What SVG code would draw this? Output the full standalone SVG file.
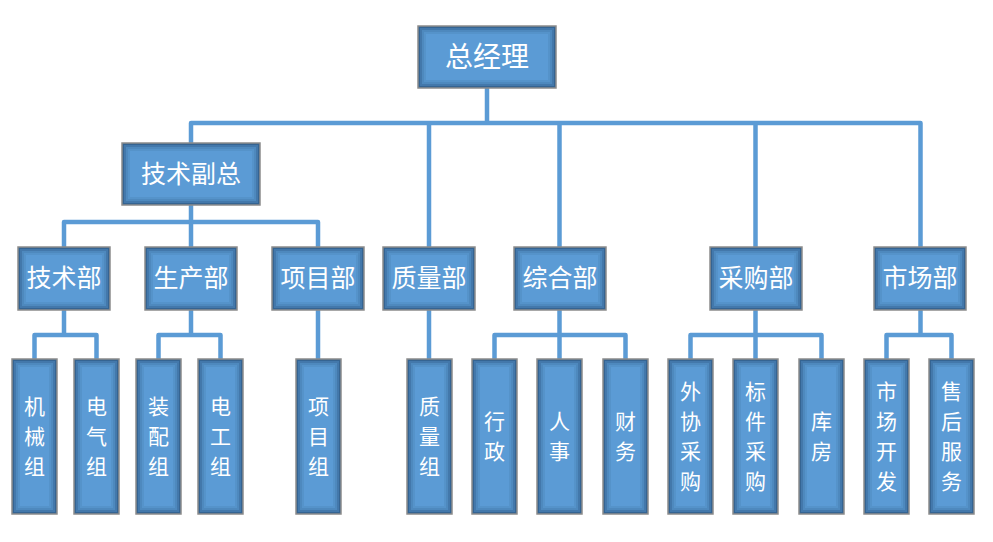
<svg xmlns="http://www.w3.org/2000/svg" width="993" height="542" viewBox="0 0 993 542">
<defs>
<style>
.fill{fill:#5b9bd5;}
.s0{fill:none;stroke:#1c3f66;stroke-width:2;stroke-opacity:0.6;}
.s1{fill:none;stroke:#1c3f66;stroke-width:2;stroke-opacity:0.38;}
.s2{fill:none;stroke:#1c3f66;stroke-width:2;stroke-opacity:0.2;}
.s3{fill:none;stroke:#1c3f66;stroke-width:2;stroke-opacity:0.09;}
.edge{fill:none;stroke:#8c8c8c;stroke-width:1.5;}
.t1{fill:#fff;font-family:"Noto Sans CJK SC","Noto Sans",sans-serif;font-size:28px;text-anchor:middle;}
.t2{fill:#fff;font-family:"Noto Sans CJK SC","Noto Sans",sans-serif;font-size:25px;text-anchor:middle;}
.t3{fill:#fff;font-family:"Noto Sans CJK SC","Noto Sans",sans-serif;font-size:21px;text-anchor:middle;}
.conn{fill:none;stroke:#5b9bd5;stroke-width:4.5;stroke-linejoin:round;stroke-linecap:butt;}
</style>
<g id="wideBox">
<rect class="fill" x="0" y="0" width="138" height="62"/>
<rect class="s0" x="1" y="1" width="136" height="60"/>
<rect class="s1" x="3" y="3" width="132" height="56"/>
<rect class="s2" x="5" y="5" width="128" height="52"/>
<rect class="s3" x="7" y="7" width="124" height="48"/>
<rect class="edge" x="0" y="0" width="138" height="62"/>
</g>
<g id="midBox">
<rect class="fill" x="0" y="0" width="92" height="63"/>
<rect class="s0" x="1" y="1" width="90" height="61"/>
<rect class="s1" x="3" y="3" width="86" height="57"/>
<rect class="s2" x="5" y="5" width="82" height="53"/>
<rect class="s3" x="7" y="7" width="78" height="49"/>
<rect class="edge" x="0" y="0" width="92" height="63"/>
</g>
<g id="leafBox">
<rect class="fill" x="0" y="0" width="45" height="155"/>
<rect class="s0" x="1" y="1" width="43" height="153"/>
<rect class="s1" x="3" y="3" width="39" height="149"/>
<rect class="s2" x="5" y="5" width="35" height="145"/>
<rect class="s3" x="7" y="7" width="31" height="141"/>
<rect class="edge" x="0" y="0" width="45" height="155"/>
</g>
</defs>
<rect width="993" height="542" fill="#ffffff"/>
<g id="connectors" class="conn">
<path d="M487 88 V123"/>
<path d="M191 143 V123 H920.5 V247"/>
<path d="M429 123 V247"/>
<path d="M559.5 123 V247"/>
<path d="M755.5 123 V247"/>
<path d="M191 205 V222"/>
<path d="M64 248 V222 H318 V248"/>
<path d="M191 222 V248"/>
<path d="M64 310 V335"/>
<path d="M34.5 359 V335 H96.5 V359"/>
<path d="M191 310 V335"/>
<path d="M158.5 359 V335 H220.5 V359"/>
<path d="M318 310 V359"/>
<path d="M429 310 V359"/>
<path d="M559.5 310 V359"/>
<path d="M494.5 359 V335 H625.5 V359"/>
<path d="M755.5 310 V359"/>
<path d="M690.5 359 V335 H821.5 V359"/>
<path d="M920.5 310 V335"/>
<path d="M886.5 359 V335 H951.5 V359"/>
</g>
<g id="n-zjl"><use href="#wideBox" x="418" y="26"/><text class="t1" x="487" y="67">总经理</text></g>
<g id="n-jsfz"><use href="#wideBox" x="122" y="143"/><text class="t2" x="191" y="183">技术副总</text></g>
<g id="n-jsb"><use href="#midBox" x="18" y="247"/><text class="t2" x="64" y="287">技术部</text></g>
<g id="n-scb"><use href="#midBox" x="145" y="247"/><text class="t2" x="191" y="287">生产部</text></g>
<g id="n-xmb"><use href="#midBox" x="272" y="247"/><text class="t2" x="318" y="287">项目部</text></g>
<g id="n-zlb"><use href="#midBox" x="383" y="247"/><text class="t2" x="429" y="287">质量部</text></g>
<g id="n-zhb"><use href="#midBox" x="514" y="247"/><text class="t2" x="560" y="287">综合部</text></g>
<g id="n-cgb"><use href="#midBox" x="710" y="247"/><text class="t2" x="756" y="287">采购部</text></g>
<g id="n-scb2"><use href="#midBox" x="874" y="247"/><text class="t2" x="920" y="287">市场部</text></g>
<g id="l-jxz"><use href="#leafBox" x="12" y="359"/><text class="t3"><tspan x="34.5" y="414">机</tspan><tspan x="34.5" y="444">械</tspan><tspan x="34.5" y="474">组</tspan></text></g>
<g id="l-dqz"><use href="#leafBox" x="74" y="359"/><text class="t3"><tspan x="96.5" y="414">电</tspan><tspan x="96.5" y="444">气</tspan><tspan x="96.5" y="474">组</tspan></text></g>
<g id="l-zpz"><use href="#leafBox" x="136" y="359"/><text class="t3"><tspan x="158.5" y="414">装</tspan><tspan x="158.5" y="444">配</tspan><tspan x="158.5" y="474">组</tspan></text></g>
<g id="l-dgz"><use href="#leafBox" x="198" y="359"/><text class="t3"><tspan x="220.5" y="414">电</tspan><tspan x="220.5" y="444">工</tspan><tspan x="220.5" y="474">组</tspan></text></g>
<g id="l-xmz"><use href="#leafBox" x="296" y="359"/><text class="t3"><tspan x="318.5" y="414">项</tspan><tspan x="318.5" y="444">目</tspan><tspan x="318.5" y="474">组</tspan></text></g>
<g id="l-zlz"><use href="#leafBox" x="407" y="359"/><text class="t3"><tspan x="429.5" y="414">质</tspan><tspan x="429.5" y="444">量</tspan><tspan x="429.5" y="474">组</tspan></text></g>
<g id="l-xz"><use href="#leafBox" x="472" y="359"/><text class="t3"><tspan x="494.5" y="429">行</tspan><tspan x="494.5" y="459">政</tspan></text></g>
<g id="l-rs"><use href="#leafBox" x="537" y="359"/><text class="t3"><tspan x="559.5" y="429">人</tspan><tspan x="559.5" y="459">事</tspan></text></g>
<g id="l-cw"><use href="#leafBox" x="603" y="359"/><text class="t3"><tspan x="625.5" y="429">财</tspan><tspan x="625.5" y="459">务</tspan></text></g>
<g id="l-wxcg"><use href="#leafBox" x="668" y="359"/><text class="t3"><tspan x="690.5" y="399">外</tspan><tspan x="690.5" y="429">协</tspan><tspan x="690.5" y="459">采</tspan><tspan x="690.5" y="489">购</tspan></text></g>
<g id="l-bjcg"><use href="#leafBox" x="733" y="359"/><text class="t3"><tspan x="755.5" y="399">标</tspan><tspan x="755.5" y="429">件</tspan><tspan x="755.5" y="459">采</tspan><tspan x="755.5" y="489">购</tspan></text></g>
<g id="l-kf"><use href="#leafBox" x="799" y="359"/><text class="t3"><tspan x="821.5" y="429">库</tspan><tspan x="821.5" y="459">房</tspan></text></g>
<g id="l-sckf"><use href="#leafBox" x="864" y="359"/><text class="t3"><tspan x="886.5" y="399">市</tspan><tspan x="886.5" y="429">场</tspan><tspan x="886.5" y="459">开</tspan><tspan x="886.5" y="489">发</tspan></text></g>
<g id="l-shfw"><use href="#leafBox" x="929" y="359"/><text class="t3"><tspan x="951.5" y="399">售</tspan><tspan x="951.5" y="429">后</tspan><tspan x="951.5" y="459">服</tspan><tspan x="951.5" y="489">务</tspan></text></g>
</svg>
